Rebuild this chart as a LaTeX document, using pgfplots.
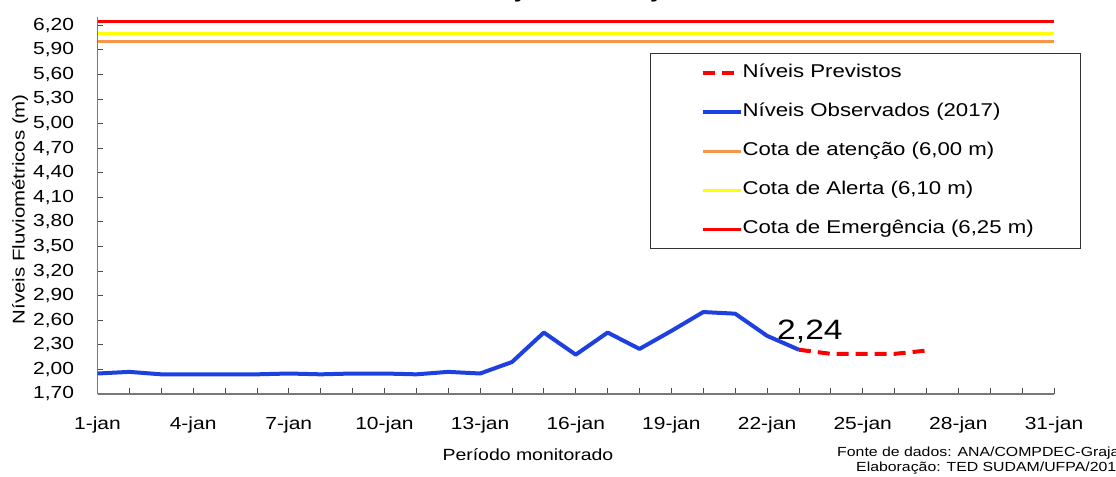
\documentclass[border=0pt]{standalone}
\usepackage{fontspec}
\setmainfont{Liberation Sans}[FakeStretch=1.2]
\usepackage{pgfplots}
\pgfplotsset{compat=1.18}
\definecolor{obsblue}{RGB}{31,64,224}
\definecolor{atorange}{RGB}{247,150,70}
\definecolor{alyellow}{RGB}{255,255,0}
\definecolor{emred}{RGB}{255,0,0}
\definecolor{axgray}{RGB}{120,120,120}
\begin{document}
\begin{tikzpicture}
\useasboundingbox (0,0) rectangle (1116bp,477bp);
\begin{axis}[
  at={(97.5bp,83bp)}, anchor=south west,
  scale only axis, width=956.5bp, height=377bp,
  xmin=1, xmax=31, ymin=1.7, ymax=6.3,
  axis lines*=left,
  axis line style={axgray, line width=1.5bp, -},
  tick align=inside,
  major tick length=6bp, minor tick length=6bp,
  tick style={black!70, line width=0.8bp},
  xtick={1,4,7,10,13,16,19,22,25,28,31},
  xticklabels={1-jan,4-jan,7-jan,10-jan,13-jan,16-jan,19-jan,22-jan,25-jan,28-jan,31-jan},
  minor xtick={1,...,31},
  ytick={1.7,2,2.3,2.6,2.9,3.2,3.5,3.8,4.1,4.4,4.7,5,5.3,5.6,5.9,6.2},
  tick label style={font=\fontsize{17.5bp}{20bp}\selectfont},
  xticklabel style={yshift=-19bp},
  yticklabel style={xshift=-20bp, /pgf/number format/fixed, /pgf/number format/fixed zerofill,
     /pgf/number format/precision=2, /pgf/number format/use comma, /pgf/number format/assume math mode=true},
  xlabel={Período monitorado},
  xlabel style={at={(axis description cs:0.45,-0.162)}, anchor=center, font=\fontsize{16.2bp}{18bp}\selectfont},
  ylabel={Níveis Fluviométricos (m)},
  ylabel style={at={(axis description cs:-0.081,0.49)}, anchor=center, font=\fontsize{17bp}{20bp}\selectfont},
  legend cell align=left,
  legend image code/.code={\path[draw=none,fill=none] (-52bp,0bp) -- (0bp,0bp); \draw[#1] (0bp,0bp) -- (38bp,0bp);},
  legend style={at={(axis description cs:0.5776,0.9045)}, anchor=north west,
     draw=black!80, line width=1.2bp, inner xsep=0pt, inner ysep=11.5bp, row sep=23bp,
     font=\fontsize{18.5bp}{20bp}\selectfont,
     nodes={text width=338bp, text height=12.5bp, text depth=3.5bp, inner xsep=0bp, inner ysep=0pt, align=left}},
]
\addplot[emred, line width=4bp, dash pattern=on 12bp off 7bp] coordinates {(23,2.24)(24,2.19)(25,2.19)(26,2.19)(27,2.23)};
\addlegendentry{Níveis Previstos}
\addplot[obsblue, line width=4bp, line join=round] coordinates {
(1,1.95)(2,1.97)(3,1.94)(4,1.94)(5,1.94)(6,1.94)(7,1.95)(8,1.94)(9,1.95)(10,1.95)(11,1.94)(12,1.97)(13,1.95)(14,2.09)(15,2.45)(16,2.18)(17,2.45)(18,2.25)(19,2.47)(20,2.70)(21,2.68)(22,2.41)(23,2.24)};
\addlegendentry{Níveis Observados (2017)}
\addplot[atorange, line width=3bp] coordinates {(1,6.00)(31,6.00)};
\addlegendentry{Cota de atenção (6,00 m)}
\addplot[alyellow, line width=3bp] coordinates {(1,6.10)(31,6.10)};
\addlegendentry{Cota de Alerta (6,10 m)}
\addplot[emred, line width=3bp] coordinates {(1,6.25)(31,6.25)};
\addlegendentry{Cota de Emergência (6,25 m)}
\node[anchor=center, font=\fontsize{28bp}{30bp}\selectfont, xshift=11bp, yshift=18bp] at (axis cs:23,2.24) {2,24};
\end{axis}
\node[anchor=base west, inner sep=0pt, font=\bfseries\fontsize{22bp}{24bp}\selectfont] at (420bp,479.5bp) {Rio Grajaú em Grajaú};
\node[anchor=west, inner sep=0pt, font=\fontsize{13.2bp}{16bp}\selectfont] at (837bp,24bp) {Fonte de dados: ANA/COMPDEC-Grajaú};
\node[anchor=west, inner sep=0pt, font=\fontsize{13.2bp}{16bp}\selectfont] at (856bp,9bp) {Elaboração: TED SUDAM/UFPA/2016};
\end{tikzpicture}
\end{document}
